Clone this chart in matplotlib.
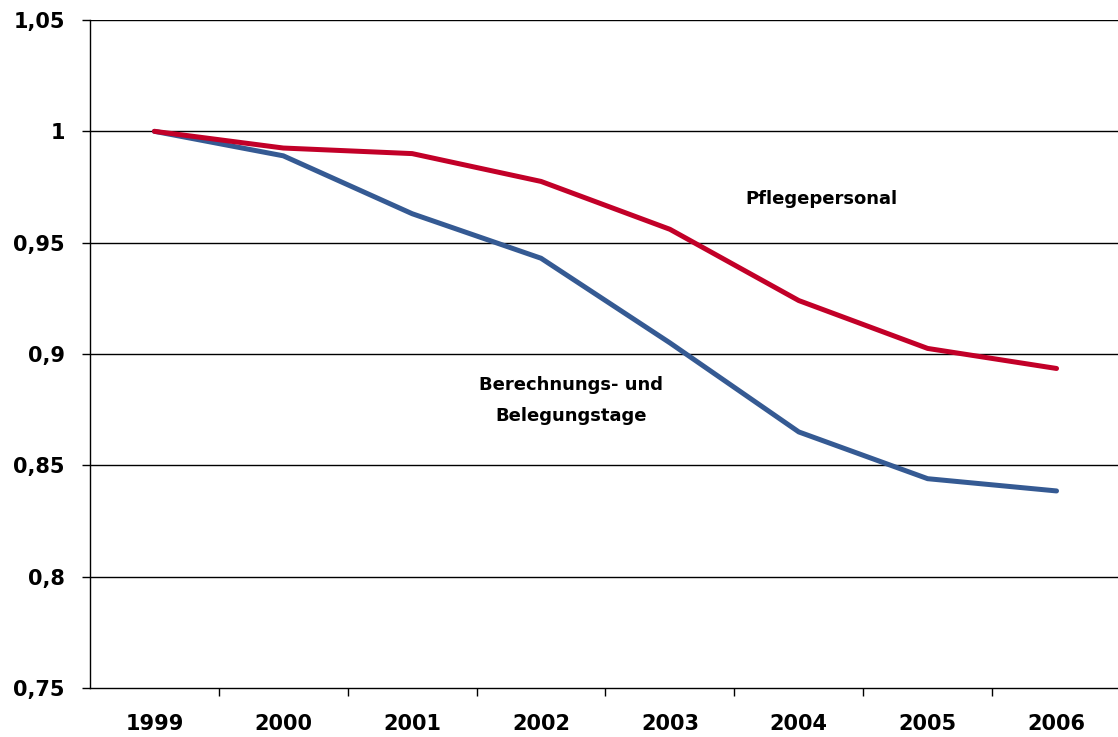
import matplotlib
matplotlib.use('Agg')
import matplotlib.pyplot as plt
import numpy as np

# Index values (1999 = 1)
years = ['1999', '2000', '2001', '2002', '2003', '2004', '2005', '2006']
pflegepersonal = [1.0, 0.9925, 0.990, 0.9775, 0.956, 0.924, 0.9025, 0.8935]
belegungstage = [1.0, 0.989, 0.963, 0.943, 0.905, 0.865, 0.844, 0.8385]
y_ticks = [0.75, 0.8, 0.85, 0.9, 0.95, 1.0, 1.05]
y_labels = ['0,75', '0,8', '0,85', '0,9', '0,95', '1', '1,05']

plt.rcParams['font.family'] = ['DejaVu Sans']

fig = plt.figure(figsize=(11.18, 7.37), dpi=100)
ax = fig.add_axes([90 / 1118, 49 / 737, 1028 / 1118, 668 / 737])

x = np.arange(len(years))
ax.plot(x, belegungstage, color='#355A93', lw=3.6, solid_capstyle='round', zorder=3)
ax.plot(x, pflegepersonal, color='#C20028', lw=3.6, solid_capstyle='round', zorder=3)

ax.set_ylim(0.75, 1.05)
ax.set_xlim(-0.5, 7.477)
ax.set_yticks(y_ticks)
ax.set_yticklabels(y_labels, fontsize=15, fontweight='bold')
for yv in y_ticks[1:]:
    ax.axhline(yv, color='black', lw=1.0, zorder=1)

# category labels centred, tick marks on the boundaries
ax.set_xticks(x)
ax.set_xticklabels(years, fontsize=15, fontweight='bold')
ax.tick_params(axis='x', length=0, pad=19)
ax.set_xticks(np.arange(0.5, 7.5, 1.0), minor=True)
ax.tick_params(axis='x', which='minor', length=6, width=1.0, direction='out')
ax.tick_params(axis='y', length=6, width=1.0, direction='out', pad=12)

for s in ['top', 'right']:
    ax.spines[s].set_visible(False)
ax.spines['left'].set_linewidth(1.0)
ax.spines['bottom'].set_linewidth(1.0)

ax.text(5.175, 0.9695, 'Pflegepersonal', fontsize=13, fontweight='bold',
        ha='center', va='center')
ax.text(3.235, 0.879, 'Berechnungs- und\nBelegungstage', fontsize=13,
        fontweight='bold', ha='center', va='center', linespacing=1.9)

fig.savefig('out.png', dpi=100)
